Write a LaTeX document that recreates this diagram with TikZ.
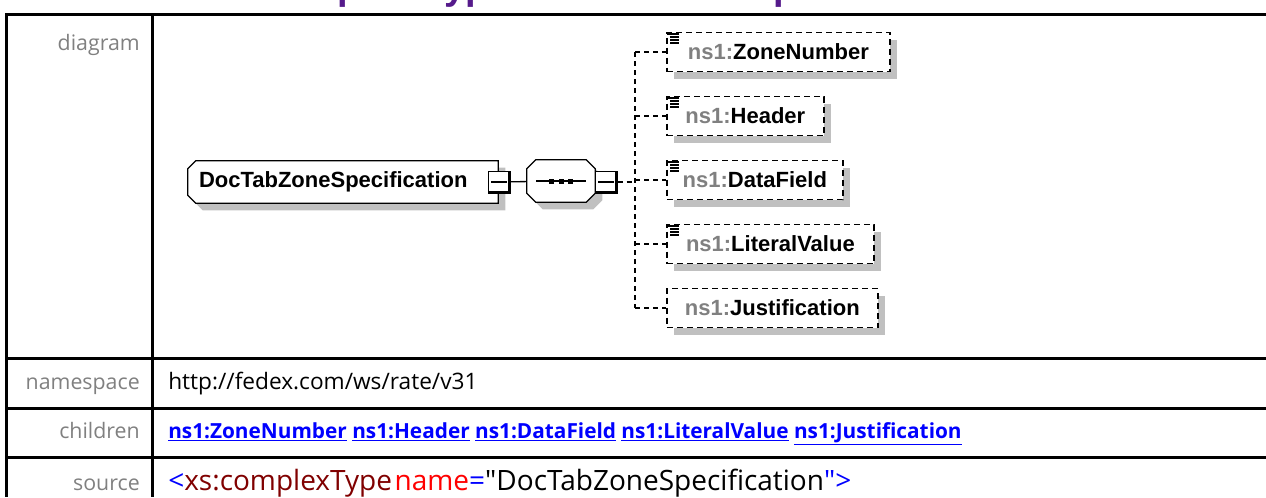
\documentclass[tikz,border=0pt]{standalone}
\usepackage{fontspec}
\setmainfont{Open Sans}
\newfontfamily\diafont{Liberation Sans}
\newfontfamily\srcfont{Open Sans}[Ligatures=TeXOff]
\usetikzlibrary{shadows,backgrounds}

\definecolor{labelgray}{RGB}{128,128,128}
\definecolor{nsgray}{RGB}{128,128,128}
\definecolor{titlepurple}{RGB}{85,26,139}
\definecolor{linkblue}{RGB}{0,0,255}
\definecolor{tagred}{RGB}{128,0,0}
\definecolor{attred}{RGB}{255,0,0}
\definecolor{shadowgray}{RGB}{192,192,192}

\newcommand{\nsname}[1]{\textcolor{nsgray}{ns1:}#1}
\newcommand{\docicon}[1]{%
  \draw[line width=1.4pt] ([xshift=0.75pt,yshift=-1.5pt]#1.north west) -- ++(9.25pt,0);
  \foreach \dy in {-3.75pt,-6pt,-8.25pt}
    \draw[line width=1.4pt] ([xshift=3pt,yshift=\dy]#1.north west) -- ++(7pt,0);}

\tikzset{
  tabline/.style={line width=2.25pt},
  rowlabel/.style={anchor=base east, inner sep=0pt, text=labelgray, font=\fontsize{16}{19}\selectfont},
  rowvalue/.style={anchor=base west, inner sep=0pt, font=\fontsize{17}{20}\selectfont},
  boxshadow/.style={drop shadow={shadow xshift=5.25pt, shadow yshift=-5.25pt, fill=shadowgray, opacity=1}},
  shapeline/.style={draw=black, line width=1pt, fill=white, boxshadow},
  typebox/.style={minimum width=232.5pt, minimum height=31.5pt, text width=216pt, inner xsep=8.25pt,
    align=left, font=\diafont\bfseries\fontsize{16.5}{19}\selectfont},
  seqbox/.style={minimum width=51pt, minimum height=31.5pt, inner sep=0pt},
  minusbox/.style={draw, fill=white, line width=0.75pt, minimum size=16.5pt, inner sep=0pt,
    path picture={
      \draw[line width=0.9pt] ([xshift=2.5pt]path picture bounding box.west) -- ([xshift=-2.5pt]path picture bounding box.east);
      \draw[line width=3.5pt] (path picture bounding box.north east) -- (path picture bounding box.south east) -- (path picture bounding box.south west);}},
  elembox/.style={draw, dash pattern=on 4.5pt off 3pt, line width=1.3pt, fill=white, boxshadow,
    anchor=west, minimum width=#1, minimum height=29.25pt, inner xsep=0pt,
    font=\diafont\bfseries\fontsize{16.5}{19}\selectfont},
  conn/.style={line width=1.1pt, dash pattern=on 3.75pt off 3pt}
}

\begin{document}
\begin{tikzpicture}[x=0.75pt,y=-0.75pt]
\useasboundingbox (0,0) rectangle (1266,497);
% heading, cut by the page edge
\node[anchor=base west, inner sep=0pt, text=titlepurple, font=\diafont\bfseries\fontsize{28.5}{34}\selectfont] (title) at (253,-0.5) {Complex Type DocTabZoneSpecification};

% table frame
\draw[tabline] (1266,14) -- (6.5,14) -- (6.5,497);
\draw[tabline] (152,14) -- (152,497);
\foreach \y in {358,408,457} \draw[tabline] (6.5,\y) -- (1266,\y);

% row labels
\node[rowlabel] (lbldiagram) at (140,50) {diagram};
\node[rowlabel] (lblnamespace) at (140,389) {namespace};
\node[rowlabel] (lblchildren) at (140,438) {children};
\node[rowlabel] (lblsource) at (140,490) {source};

% diagram
\node[typebox] (doctab) at (343,182) {DocTabZoneSpecification};
\node[seqbox] (seq) at (561,181) {};
\begin{pgfonlayer}{background}
\filldraw[shapeline] ([xshift=6pt]doctab.north west) -- (doctab.north east) -- (doctab.south east)
  -- ([xshift=6pt]doctab.south west) -- ([yshift=6pt]doctab.south west) -- ([yshift=-6pt]doctab.north west) -- cycle;
\filldraw[shapeline] ([xshift=6.75pt]seq.north west) -- ([xshift=-6.75pt]seq.north east) -- ([yshift=-6.75pt]seq.north east)
  -- ([yshift=6.75pt]seq.south east) -- ([xshift=-6.75pt]seq.south east) -- ([xshift=6.75pt]seq.south west)
  -- ([yshift=6.75pt]seq.south west) -- ([yshift=-6.75pt]seq.north west) -- cycle;
\end{pgfonlayer}
\node[minusbox] (doctabminus) at (499,182) {};
\node[minusbox] (seqminus) at (606,182) {};
\draw[line width=1pt] (doctabminus) -- (seq);
\draw[line width=1pt] ([xshift=-18.75pt]seq.center) -- ([xshift=18.75pt]seq.center);
\foreach \dx in {-7pt,0pt,7pt}
  \fill ([xshift=\dx]seq.center) +(-2.5,-2.5) rectangle +(2.5,2.5);

\node[elembox=167.25pt] (zonenumber) at (666,52) {\nsname{ZoneNumber}};
\node[elembox=117.75pt] (header) at (666,116) {\nsname{Header}};
\node[elembox=132pt] (datafield) at (666,180) {\nsname{DataField}};
\node[elembox=155.25pt] (literalvalue) at (666,244) {\nsname{LiteralValue}};
\node[elembox=158.25pt] (justification) at (666,308) {\nsname{Justification}};
\foreach \c in {zonenumber,header,datafield,literalvalue} \docicon{\c};

\coordinate (bus) at (635,182);
\draw[conn] (seqminus.east) -- (bus);
\draw[conn] (bus |- zonenumber.west) -- (bus |- justification.west);
\foreach \c in {zonenumber,header,datafield,literalvalue,justification}
  \draw[conn] (bus |- \c.west) -- (\c.west);

% row values
\node[rowvalue] (nsvalue) at (168,389) {http://fedex.com/ws/rate/v31};
\node[rowvalue, text=linkblue, font=\bfseries\fontsize{15.6}{18}\selectfont] (childlinks) at (168,438)
  {\underline{ns1:ZoneNumber} \underline{ns1:Header} \underline{ns1:DataField} \underline{ns1:LiteralValue} \underline{ns1:Justification}};
\node[rowvalue, font=\srcfont\fontsize{21}{24}\selectfont] (srcvalue) at (168,490)
  {\textcolor{linkblue}{<}\textcolor{tagred}{xs:complexType}\hspace{2pt}\textcolor{attred}{name}\textcolor{linkblue}{=}"DocTabZoneSpecification\textcolor{linkblue}{">}};
\end{tikzpicture}
\end{document}
